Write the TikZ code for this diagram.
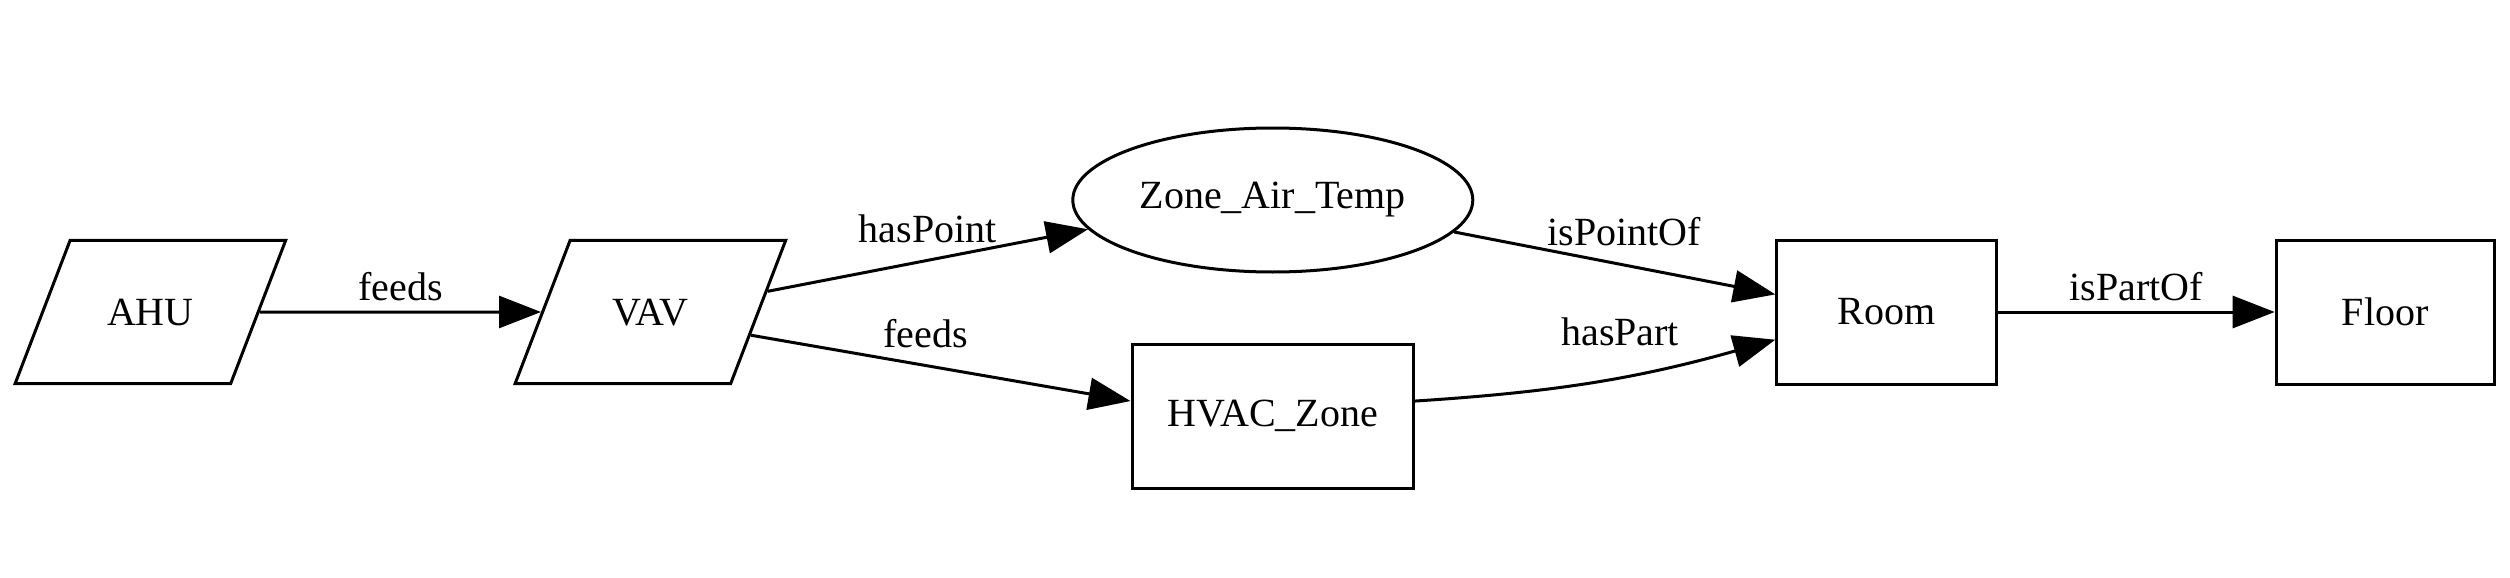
\documentclass[tikz,border=0pt]{standalone}
\usepackage{fontspec}
\setmainfont{Liberation Serif}
\usetikzlibrary{arrows.meta,shapes.geometric}

\tikzset{
  base/.style={draw, line width=0.75pt, inner sep=0pt, font=\fontsize{10}{12}\selectfont},
  para/.style={base, trapezium, trapezium left angle=69, trapezium right angle=111,
    text width=40.15pt, align=center, text height=21.2pt, text depth=14.6pt},
  ellip/.style={base, ellipse, minimum width=100pt, minimum height=36pt},
  box/.style={base, rectangle, minimum height=36pt},
  elabel/.style={font=\fontsize{10}{12}\selectfont, inner sep=0pt},
}

\begin{document}
\begin{tikzpicture}[x=1pt, y=1pt, >={Triangle[length=10.5pt,width=8pt]}, line width=0.75pt]
\useasboundingbox (0,0) rectangle (627.5,-144.5);
% nodes
\node[para] (ahu) at (37.6,-78) {AHU};
\node[para] (vav) at (162.6,-78) {VAV};
\node[ellip] (zat) at (318.2,-50) {Zone\_Air\_Temp};
\node[box, minimum width=70.4pt] (hvac) at (318.2,-104) {HVAC\_Zone};
\node[box, minimum width=54.8pt] (room) at (471.6,-78) {Room};
\node[box, minimum width=54.5pt] (floor) at (596.3,-78) {Floor};
% relations
\draw[->] (ahu) -- node[elabel, above=2.5pt] (lfeedsa) {feeds} (vav);
\draw[->] (vav.10) -- node[elabel, above=4pt] (lhaspoint) {hasPoint} (zat.189);
\draw[->] (vav.-13) -- node[elabel, above=4pt, pos=0.46] (lfeedsb) {feeds} (hvac.174);
\draw[->] (zat.-10) -- node[elabel, above=4.5pt, pos=0.53] (lispointof) {isPointOf} (room.171);
\draw[->] (hvac.6) to[bend right=6] node[elabel, above=7.5pt, pos=0.57] (lhaspart) {hasPart} (room.194);
\draw[->] (room) -- node[elabel, above=2.5pt] (lispartof) {isPartOf} (floor);
\end{tikzpicture}
\end{document}
